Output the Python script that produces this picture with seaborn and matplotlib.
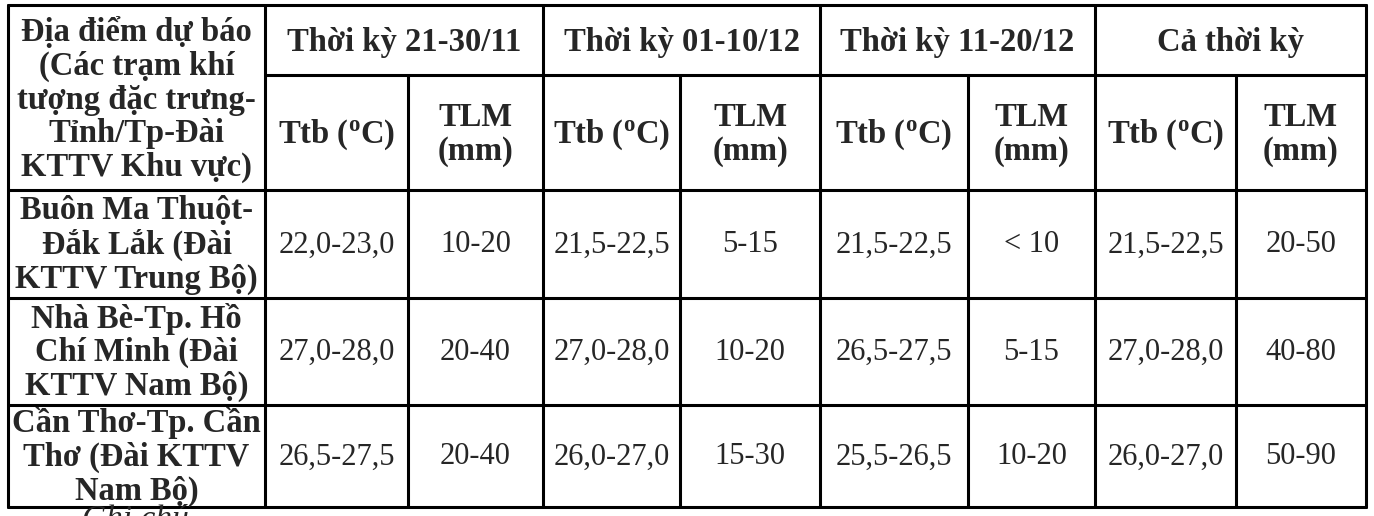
import matplotlib
matplotlib.use("Agg")
import matplotlib.pyplot as plt
import seaborn as sns

sns.set_theme(style="white")
plt.rcParams['font.family'] = ['Liberation Serif', 'DejaVu Serif']
plt.rcParams['mathtext.fontset'] = 'custom'
plt.rcParams['mathtext.rm'] = 'Liberation Serif:bold'

periods = ["Thời kỳ 21-30/11", "Thời kỳ 01-10/12", "Thời kỳ 11-20/12", "Cả thời kỳ"]
sub_headers = [r"Ttb ($\mathrm{^o}$C)", "TLM\n(mm)"]
corner_header = "Địa điểm dự báo\n(Các trạm khí\ntượng đặc trưng-\nTỉnh/Tp-Đài\nKTTV Khu vực)"
stations = [
    "Buôn Ma Thuột-\nĐắk Lắk (Đài\nKTTV Trung Bộ)",
    "Nhà Bè-Tp. Hồ\nChí Minh (Đài\nKTTV Nam Bộ)",
    "Cần Thơ-Tp. Cần\nThơ (Đài KTTV\nNam Bộ)",
]
values = [
    ["22,0-23,0", "10-20", "21,5-22,5", "5-15", "21,5-22,5", "< 10", "21,5-22,5", "20-50"],
    ["27,0-28,0", "20-40", "27,0-28,0", "10-20", "26,5-27,5", "5-15", "27,0-28,0", "40-80"],
    ["26,5-27,5", "20-40", "26,0-27,0", "15-30", "25,5-26,5", "10-20", "26,0-27,0", "50-90"],
]

col_x = [8, 265, 408, 543, 680, 820, 968, 1095, 1236, 1366]
row_y = [5, 75, 190, 298, 405, 507]

fig = plt.figure(figsize=(13.74, 5.16), dpi=100)
ax = fig.add_axes([0, 0, 1, 1])
ax.set_xlim(0, 1374)
ax.set_ylim(516, 0)
ax.axis("off")

lw = 2.2
for y in [row_y[0], row_y[2], row_y[3], row_y[4], row_y[5]]:
    ax.plot([col_x[0], col_x[-1]], [y, y], color="black", lw=lw)
ax.plot([col_x[1], col_x[-1]], [row_y[1], row_y[1]], color="black", lw=lw)
for i, x in enumerate(col_x):
    top = row_y[0] if i in (0, 1, 3, 5, 7, 9) else row_y[1]
    ax.plot([x, x], [top, row_y[-1]], color="black", lw=lw)

hfs, bfs = 23.5, 22
ax.text((col_x[0] + col_x[1]) / 2, (row_y[0] + row_y[2]) / 2 + 2, corner_header,
        ha="center", va="center", fontsize=hfs, fontweight="bold", linespacing=1.1)
for k, p in enumerate(periods):
    ax.text((col_x[1 + 2 * k] + col_x[3 + 2 * k]) / 2, (row_y[0] + row_y[1]) / 2 + 2, p,
            ha="center", va="center", fontsize=hfs, fontweight="bold")
    for j in range(2):
        c = 1 + 2 * k + j
        ax.text((col_x[c] + col_x[c + 1]) / 2, (row_y[1] + row_y[2]) / 2 + 2, sub_headers[j],
                ha="center", va="center", fontsize=hfs, fontweight="bold", linespacing=1.15)
for r, (st, vals) in enumerate(zip(stations, values)):
    yc = (row_y[2 + r] + row_y[3 + r]) / 2
    ax.text((col_x[0] + col_x[1]) / 2, yc + 1, st, ha="center", va="center",
            fontsize=hfs, fontweight="bold", linespacing=1.1)
    for c, v in enumerate(vals):
        ax.text((col_x[c + 1] + col_x[c + 2]) / 2, yc + 1, v, ha="center", va="center", fontsize=bfs)

ax.text(82, 505, "Ghi chú", ha="left", va="top", fontsize=24, style="italic")

fig.savefig("out.png", dpi=100)
